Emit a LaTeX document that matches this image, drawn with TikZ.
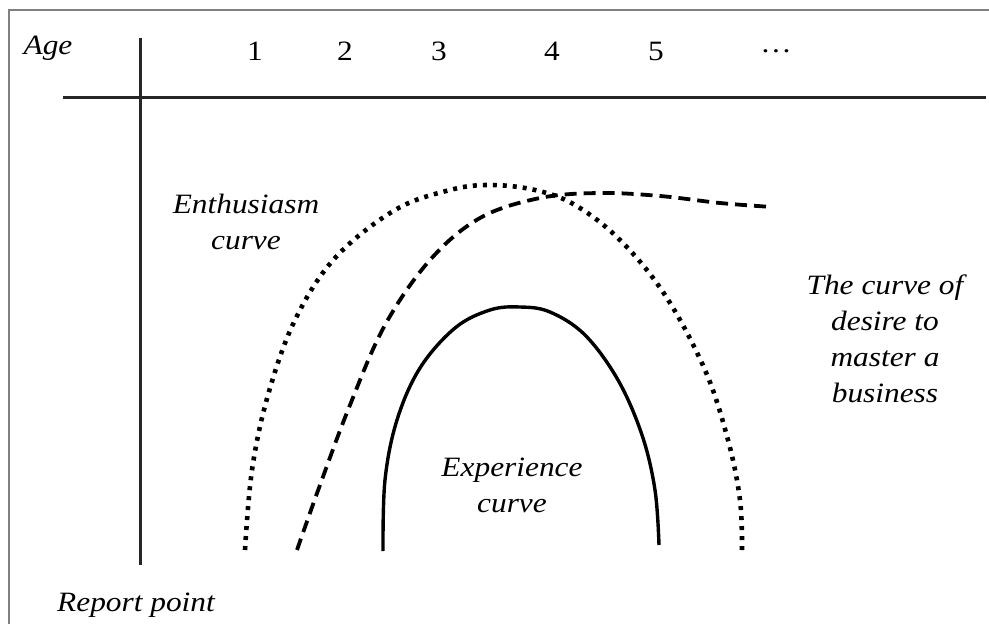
\documentclass[tikz,border=0pt]{standalone}
\usepackage{fontspec}
\setmainfont[FakeStretch=1.12]{Liberation Serif}
\begin{document}
\begin{tikzpicture}[x=1pt,y=-1pt,
  lbl/.style={font=\fontsize{28}{36}\selectfont\itshape, align=center, inner sep=0pt},
  num/.style={font=\fontsize{28}{36}\selectfont, inner sep=0pt},
  axisline/.style={line width=3pt, black!85},
  dotcurve/.style={line width=4.6pt, dash pattern=on 4pt off 6pt, line cap=butt},
  dashcurve/.style={line width=3.8pt, dash pattern=on 12pt off 7pt},
  solidcurve/.style={line width=3.4pt}]
\useasboundingbox (0,0) rectangle (989,624);
\draw[gray, line width=1.6pt] (9,630) -- (9,10) -- (995,10);
% axes
\coordinate (hl) at (63,97); \coordinate (hr) at (986,97);
\coordinate (vt) at (140,38); \coordinate (vb) at (140,565);
\draw[axisline] (hl) -- (hr);
\draw[axisline] (vt) -- (vb);
% labels
\node[lbl] (age) at (48,48) {Age};
\node[num] (n1) at (255,51) {1};
\node[num] (n2) at (345,51) {2};
\node[num] (n3) at (439,51) {3};
\node[num] (n4) at (552,51) {4};
\node[num] (n5) at (656,51) {5};
\node[num] (n6) at (776,51) {\ldots};
\node[lbl] (ent) at (246,222) {Enthusiasm\\curve};
\node[lbl] (exp) at (512,485) {Experience\\curve};
\node[lbl] (des) at (885,339) {The curve of\\desire to\\master a\\business};
\node[lbl] (rep) at (136,605) {Report point};
% curves
\draw[dotcurve] plot[smooth, tension=0.6] coordinates {(245,550) (252,470) (268,395) (295,320) (335,258) (395,210) (450,190) (490,185) (535,190) (575,205) (620,240) (665,295) (705,370) (728,440) (740,500) (742,550)};
\draw[dashcurve] plot[smooth, tension=0.6] coordinates {(297,550) (320,485) (350,405) (385,325) (430,260) (480,218) (540,198) (600,193) (660,196) (720,203) (772,207)};
\draw[solidcurve] plot[smooth, tension=0.6] coordinates {(383,551) (385,480) (397,420) (420,368) (455,328) (490,310) (520,307) (550,312) (585,335) (618,380) (642,435) (655,490) (659,545)};
\end{tikzpicture}
\end{document}
